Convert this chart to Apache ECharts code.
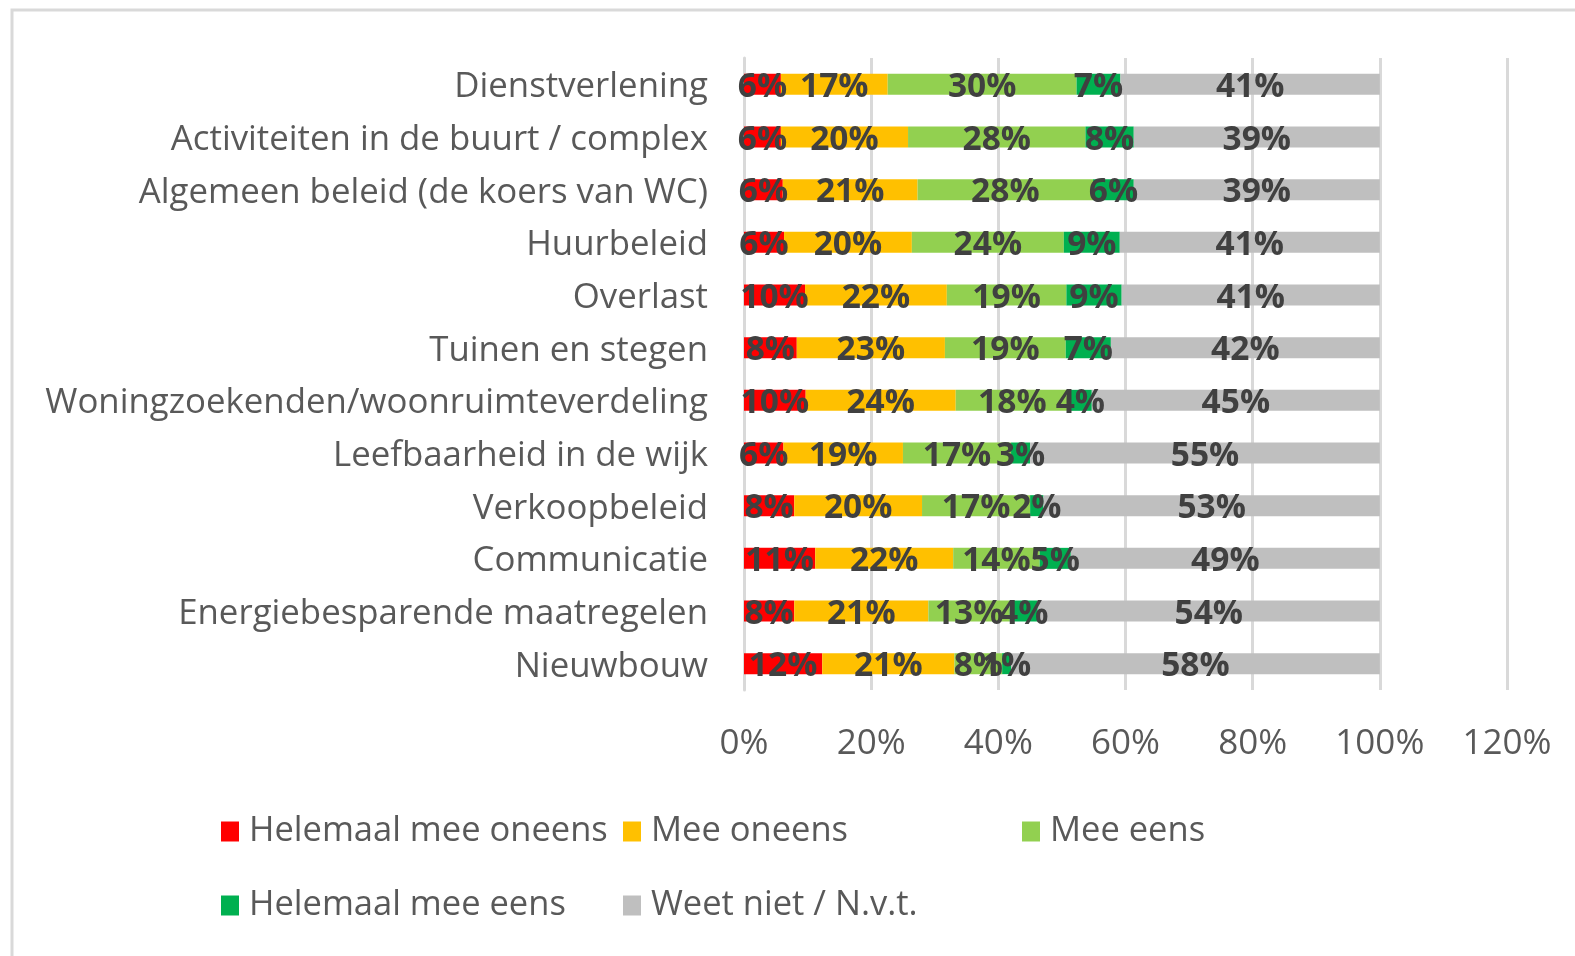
<!DOCTYPE html>
<html lang="nl">
  <head>
    <meta charset="UTF-8" />
    <title>Tevredenheid</title>
    <script src="https://cdn.jsdelivr.net/npm/echarts@6/dist/echarts.min.js"></script>
    <style>
      html, body { margin: 0; padding: 0; background: #fff; }
    </style>
  </head>
  <body>
    <div id="chart" style="width: 1575px; height: 956px"></div>
    <script>
      const categories = [
        'Dienstverlening',
        'Activiteiten in de buurt / complex',
        'Algemeen beleid (de koers van WC)',
        'Huurbeleid',
        'Overlast',
        'Tuinen en stegen',
        'Woningzoekenden/woonruimteverdeling',
        'Leefbaarheid in de wijk',
        'Verkoopbeleid',
        'Communicatie',
        'Energiebesparende maatregelen',
        'Nieuwbouw'
      ];
      // percentages per category, top to bottom
      const helemaalOneens = [5.8, 5.8, 6.1, 6.3, 9.6, 8.3, 9.7, 6.2, 7.9, 11.2, 7.9, 12.3];
      const meeOneens = [16.8, 20.0, 21.2, 20.1, 22.3, 23.3, 23.6, 18.8, 20.1, 21.7, 21.1, 20.8];
      const meeEens = [29.7, 27.9, 27.6, 23.9, 18.8, 19.0, 17.8, 17.0, 17.0, 13.6, 12.8, 7.5];
      const helemaalEens = [6.9, 7.6, 6.4, 8.8, 8.7, 7.1, 3.6, 3.0, 2.1, 4.9, 4.4, 1.4];
      const weetNiet = [40.8, 38.7, 38.7, 40.9, 40.6, 42.3, 45.3, 55.0, 52.9, 48.6, 53.8, 58.0];

      const seriesNames = ['Helemaal mee oneens', 'Mee oneens', 'Mee eens', 'Helemaal mee eens', 'Weet niet / N.v.t.'];
      const seriesData = [helemaalOneens, meeOneens, meeEens, helemaalEens, weetNiet];
      const colors = ['#ff0000', '#ffc000', '#92d050', '#00b050', '#bfbfbf'];

      const font = 'Open Sans';
      const chart = echarts.init(document.getElementById('chart'));

      // each legend entry placed on its own spot, like the original two-row layout
      const legendPos = [
        [221, 814],
        [623, 814],
        [1022, 814],
        [221, 888],
        [623, 888]
      ];
      const legends = seriesNames.map(function (name, i) {
        return {
          data: [name],
          left: legendPos[i][0],
          top: legendPos[i][1],
          padding: 0,
          itemWidth: 18,
          itemHeight: 20,
          icon: 'rect',
          selectedMode: false,
          textStyle: {
            fontFamily: font,
            fontSize: 34.5,
            color: '#595959',
            padding: [0, 0, 0, 5]
          }
        };
      });

      const series = seriesNames.map(function (name, i) {
        return {
          name: name,
          type: 'bar',
          stack: 'total',
          barWidth: 21,
          data: seriesData[i],
          itemStyle: { color: colors[i] },
          label: {
            show: true,
            position: 'inside',
            offset: [0, 3],
            fontFamily: font,
            fontSize: 33.5,
            fontWeight: 'bold',
            color: '#404040',
            formatter: function (p) {
              return Math.round(p.value) + '%';
            }
          }
        };
      });

      const option = {
        animation: false,
        color: colors,
        graphic: [
          {
            type: 'rect',
            shape: { x: 12, y: 10, width: 1620, height: 1000 },
            style: { fill: 'none', stroke: '#d9d9d9', lineWidth: 3 },
            z: 100
          }
        ],
        legend: legends,
        grid: {
          left: 744,
          right: 68,
          top: 58,
          bottom: 266
        },
        xAxis: {
          type: 'value',
          min: 0,
          max: 120,
          interval: 20,
          axisLine: { show: false },
          axisTick: { show: false },
          splitLine: { lineStyle: { color: '#d9d9d9', width: 3 } },
          axisLabel: {
            margin: 37,
            fontFamily: font,
            fontSize: 35,
            color: '#595959',
            formatter: '{value}%'
          }
        },
        yAxis: {
          type: 'category',
          inverse: true,
          data: categories,
          axisLine: { show: true, lineStyle: { color: '#d9d9d9', width: 3 } },
          axisTick: { show: false },
          axisLabel: {
            margin: 36,
            formatter: function (v) {
              return '{c|' + v + '}';
            },
            rich: {
              c: {
                padding: [6, 0, 0, 0],
                fontFamily: font,
                fontSize: 34.8,
                color: '#595959'
              }
            }
          }
        },
        series: series
      };
      chart.setOption(option);
    </script>
  </body>
</html>
